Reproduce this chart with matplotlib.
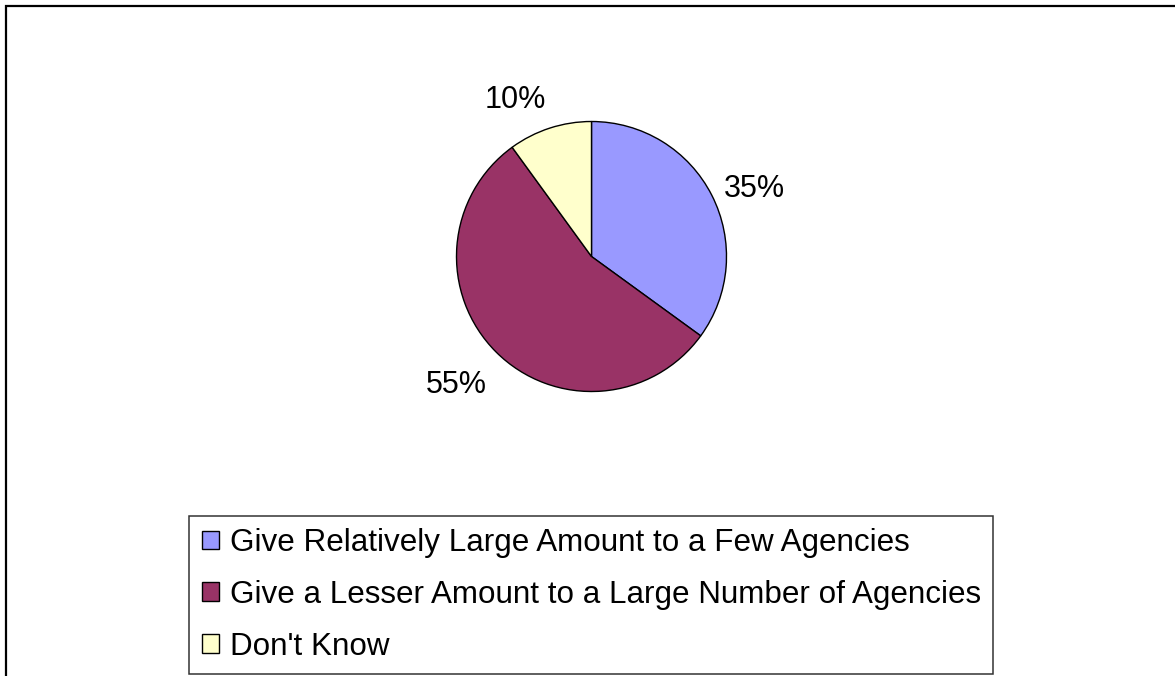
import matplotlib.pyplot as plt
from matplotlib.patches import Patch, Rectangle

plt.rcParams['font.family'] = ['Liberation Sans', 'DejaVu Sans']

# survey answers: how donations should be split
answers = ["Give Relatively Large Amount to a Few Agencies",
           "Give a Lesser Amount to a Large Number of Agencies",
           "Don't Know"]
shares = [35, 55, 10]
colors = ["#9999FF", "#993366", "#FFFFCC"]

W, H = 1175, 676
fig = plt.figure(figsize=(W / 100, H / 100), dpi=100)

# pie sits in a square box, 270 px across
cx, cy, r = 591.5, 256.5, 135
ax = fig.add_axes([(cx - r) / W, (H - cy - r) / H, 2 * r / W, 2 * r / H])
wedges, texts = ax.pie(shares, colors=colors, startangle=90, counterclock=False,
                       labels=["%d%%" % s for s in shares], labeldistance=1.1,
                       wedgeprops=dict(edgecolor="black", linewidth=1.0),
                       textprops=dict(fontsize=22))
ax.set_xlim(-1, 1)
ax.set_ylim(-1, 1)

# push labels clear of the pie depending on where they sit
for t in texts:
    x, y = t.get_position()
    if y > 0.5:
        t.set_va("bottom")
    elif y < -0.5:
        t.set_va("top")
        t.set_position((x, y - 0.06))
    else:
        t.set_va("center")

handles = [Patch(facecolor=c, edgecolor="black", linewidth=1.0) for c in colors]
leg = fig.legend(handles, answers, loc="upper left",
                 bbox_to_anchor=(189.3 / W, 1 - 515.7 / H), borderaxespad=0,
                 fontsize=22.6, handlelength=0.54, handleheight=0.54,
                 handletextpad=0.35, borderpad=0.4, labelspacing=0.69,
                 frameon=True, fancybox=False, shadow=False)
leg.get_frame().set_edgecolor("black")
leg.get_frame().set_linewidth(1.1)

# chart area border, running off the right and bottom
fig.patches.append(Rectangle((6 / W, -0.05), 1.1, 1 - 5.5 / H + 0.05,
                             transform=fig.transFigure, fill=False,
                             edgecolor="black", linewidth=1.6, clip_on=False))

fig.savefig("out.png", dpi=100)
